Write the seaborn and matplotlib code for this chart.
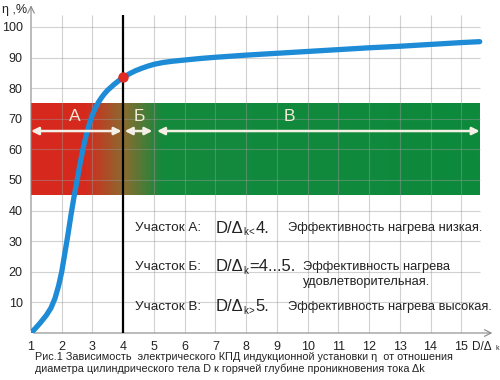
import numpy as np
import pandas as pd
import matplotlib
matplotlib.use("Agg")
import matplotlib.pyplot as plt
from matplotlib.colors import LinearSegmentedColormap
import seaborn as sns

# efficiency curve
ratio = [1, 1.15, 1.3, 1.5, 1.65, 1.78, 1.9, 2.0, 2.1, 2.2, 2.3, 2.4, 2.5, 2.6, 2.7, 2.8,
         2.9, 3.0, 3.1, 3.2, 3.3, 3.4, 3.5, 3.6, 3.7, 3.8, 3.9, 4.0, 4.2, 4.4, 4.6, 4.8,
         5.0, 5.3, 5.6, 6.0, 6.5, 7, 8, 9, 10, 11, 12, 13, 14, 15, 15.6]
eta = [0, 1.6, 3.3, 5.8, 8.2, 11.3, 15.5, 20, 26, 32, 38.5, 44.5, 50, 55.5, 60.5, 64.8,
       68.4, 71.3, 73.6, 75.5, 77.0, 78.3, 79.4, 80.3, 81.2, 82.0, 82.8, 83.5, 84.7, 85.7, 86.5, 87.2,
       87.8, 88.4, 88.8, 89.2, 89.7, 90.1, 90.8, 91.4, 92, 92.6, 93.2, 93.7, 94.3, 94.9, 95.2]

x_ticks = list(range(1, 16))
y_ticks = list(range(10, 101, 10))

zone_labels = ["А", "Б", "В"]
zone_start = [1.0, 4.05, 5.1]
zone_end = [3.95, 4.95, 15.6]
zone_label_x = [2.43, 4.53, 9.4]

row_names = ["Участок А:", "Участок Б:", "Участок В:"]
row_sign = ["<", "=", ">"]
row_value = ["4.", "4...5.", "5."]
row_desc = ["Эффективность нагрева низкая.",
            "Эффективность нагрева\nудовлетворительная.",
            "Эффективность нагрева высокая."]
row_y = [34.3, 21.6, 8.5]

caption = ("Рис.1 Зависимость  электрического КПД индукционной установки η  от отношения\n"
           "диаметра цилиндрического тела D к горячей глубине проникновения тока Δk")

df = pd.DataFrame({"ratio": ratio, "eta": eta})

sns.set_theme(style="white")
plt.rcParams["font.family"] = ["Liberation Sans", "DejaVu Sans"]
ink = "#222222"

fig = plt.figure(figsize=(5, 3.8), dpi=100)
ax = fig.add_axes([31 / 500, 47 / 380, 461 / 500, 330.5 / 380])
ax.set_xlim(1, 16)
ax.set_ylim(0, 108)

# coloured band with gradient
cmap = LinearSegmentedColormap.from_list(
    "band", [(0, "#d8281d"), (0.12, "#d52a1e"), (0.205, "#8a6b30"), (0.29, "#14893d"), (1, "#0d8a3c")])
ax.imshow(np.linspace(0, 1, 400)[None, :], cmap=cmap, aspect="auto",
          extent=[1, 15.6, 45, 75], zorder=1)

# grid
ax.vlines(x_ticks[1:], 0, 104, color="#999999", alpha=0.45, lw=0.8, zorder=2)
ax.hlines(y_ticks, 1, 15.6, color="#999999", alpha=0.45, lw=0.8, zorder=2)

# axes with arrows
for s in ax.spines.values():
    s.set_visible(False)
ax.annotate("", xy=(1, 108), xytext=(1, 0),
            arrowprops=dict(arrowstyle="->", color="#888888", lw=0.8), zorder=3)
ax.annotate("", xy=(16.1, 0), xytext=(1, 0),
            arrowprops=dict(arrowstyle="->", color="#888888", lw=0.8), zorder=3,
            annotation_clip=False)

ax.set_xticks(x_ticks)
ax.set_yticks(y_ticks)
ax.tick_params(length=0, labelsize=9, colors=ink)
ax.tick_params(axis="x", pad=6)
ax.tick_params(axis="y", pad=6)

ax.vlines(4, 0, 104, color="black", lw=1.6, zorder=4)

sns.lineplot(data=df, x="ratio", y="eta", ax=ax, color="#1d8bd6", lw=3.8, zorder=5)
ax.plot(4, 83.5, "o", color="#e02a22", ms=6.5, zorder=6)
ax.set_xlabel("")
ax.set_ylabel("")

# zone arrows
for lab, a, b, lx in zip(zone_labels, zone_start, zone_end, zone_label_x):
    ax.annotate("", xy=(a, 66), xytext=(b, 66),
                arrowprops=dict(arrowstyle="<|-|>", color="#f4f0e6", lw=1.8,
                                mutation_scale=11, shrinkA=0, shrinkB=0), zorder=5)
    ax.text(lx, 70.8, lab, color="#f4ecd8", fontsize=12.5, ha="center", va="center", zorder=5)

for name, sign, val, desc, y in zip(row_names, row_sign, row_value, row_desc, row_y):
    ax.text(4.39, y, name, fontsize=9.7, color=ink, va="center")
    ax.text(7.0, y, "D/Δ", fontsize=12, color=ink, va="center")
    ax.text(7.92, y - 1.2, "k", fontsize=7, color=ink, va="center")
    if sign == "=":
        ax.text(8.1, y, "=" + val, fontsize=12, color=ink, va="center")
    else:
        ax.text(8.08, y - 1.2, sign, fontsize=7, color=ink, va="center")
        ax.text(8.3, y, val, fontsize=12, color=ink, va="center")
    lines = desc.split("\n")
    dx = 9.86 if len(lines) > 1 else 9.37
    for i, line in enumerate(lines):
        ax.text(dx, y - 4.9 * i, line, fontsize=9.3, color=ink, va="center")

fig.text(2 / 500, 1 - 10 / 380, "η ,%", fontsize=9, color=ink, va="center")
fig.text(472 / 500, 1 - 347 / 380, "D/Δ", fontsize=8.5, color=ink, va="center")
fig.text(495 / 500, 1 - 349 / 380, "k", fontsize=5, color=ink, va="center")
fig.text(35 / 500, 1 - 363 / 380, caption, fontsize=7.8, color=ink, va="center",
         linespacing=1.1)

fig.savefig("out.png", dpi=100)
